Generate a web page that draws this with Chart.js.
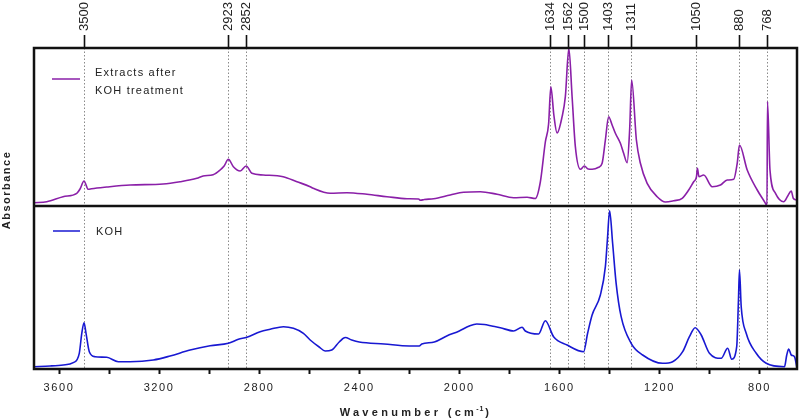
<!DOCTYPE html>
<html><head><meta charset="utf-8">
<script src="https://cdn.jsdelivr.net/npm/chart.js@4.4.1/dist/chart.umd.min.js"></script>
<style>html,body{margin:0;padding:0;background:#fff;}canvas{display:block;}</style>
</head><body>
<canvas id="c" width="800" height="419"></canvas>
<script>
// ---- data (absorbance, arbitrary units) ----
const seriesNames = ['Extracts after KOH treatment', 'KOH'];

const extractWavenumbers = [3700,3649,3584,3529,3516,3500,3483,3470,3409,3316,3184,3116,3049,3024,2984,2956,2940,2923,2903,2876,2852,2829,2784,2704,2649,2596,2584,2516,2449,2369,2289,2209,2163,2155,2140,2103,2036,1983,1916,1849,1783,1729,1696,1676,1656,1643,1634,1622,1609,1589,1576,1562,1549,1536,1516,1500,1485,1469,1443,1429,1416,1403,1389,1376,1356,1343,1329,1319,1311,1292,1276,1249,1209,1176,1143,1109,1083,1063,1052,1048,1042,1023,989,956,929,903,889,880,849,809,776,770,768,758,736,703,687,673,665,652];
const extractAbsorbance  = [0.033,0.043,0.093,0.127,0.17,0.25,0.167,0.173,0.19,0.21,0.22,0.243,0.277,0.30,0.313,0.36,0.40,0.467,0.393,0.35,0.40,0.327,0.31,0.293,0.243,0.193,0.177,0.127,0.133,0.117,0.093,0.073,0.07,0.057,0.065,0.073,0.11,0.137,0.143,0.117,0.083,0.087,0.075,0.24,0.64,0.82,1.193,0.91,0.73,0.893,1.093,1.577,1.093,0.593,0.367,0.40,0.37,0.367,0.387,0.427,0.66,0.893,0.81,0.727,0.627,0.527,0.433,0.76,1.26,0.66,0.427,0.227,0.093,0.04,0.053,0.077,0.16,0.243,0.29,0.377,0.293,0.31,0.193,0.21,0.26,0.267,0.427,0.61,0.36,0.16,0.027,0.0,1.043,0.36,0.127,0.043,0.10,0.15,0.077,0.06];

const kohWavenumbers = [3700,3636,3583,3543,3519,3509,3500,3492,3479,3456,3409,3363,3316,3223,3156,3076,2996,2923,2883,2849,2796,2756,2703,2663,2623,2596,2560,2536,2510,2480,2456,2430,2400,2300,2200,2160,2150,2100,2050,2000,1960,1930,1900,1870,1836,1783,1749,1736,1683,1656,1623,1569,1503,1487,1469,1436,1416,1408,1399,1387,1373,1353,1313,1267,1187,1147,1107,1080,1057,1033,1000,953,927,911,891,884,880,873,853,813,773,700,691,683,673,660,651];
const kohAbsorbance  = [0.023,0.03,0.04,0.063,0.157,0.357,0.463,0.357,0.173,0.123,0.117,0.073,0.073,0.09,0.13,0.19,0.233,0.257,0.297,0.317,0.373,0.397,0.423,0.407,0.357,0.29,0.22,0.18,0.19,0.27,0.315,0.29,0.27,0.25,0.23,0.23,0.25,0.27,0.33,0.38,0.43,0.45,0.445,0.43,0.413,0.38,0.417,0.38,0.35,0.483,0.323,0.24,0.173,0.357,0.54,0.74,1.023,1.29,1.583,1.257,0.857,0.523,0.257,0.14,0.057,0.073,0.173,0.323,0.413,0.34,0.157,0.107,0.207,0.097,0.223,0.69,0.99,0.623,0.357,0.157,0.057,0.023,0.14,0.20,0.14,0.123,0.023];

const peakLabels = [3500, 2923, 2852, 1634, 1562, 1500, 1403, 1311, 1050, 880, 768];
const xTickValues = [3600, 3400, 3200, 3000, 2800, 2600, 2400, 2200, 2000, 1800, 1600, 1400, 1200, 1000, 800];
const xTickLabels = ['3600', '3200', '2800', '2400', '2000', '1600', '1200', '800'];
const xRange = [650, 3700];
const yRangeExtract = [0, 1.58];
const yRangeKoh = [0, 1.63];

const colExtract = '#8a1fa8';
const colKoh = '#1818d2';

Chart.defaults.font.family = "'Liberation Sans', Arial, sans-serif";
Chart.defaults.color = '#222';

const toPoints = (xs, ys) => xs.map((x, i) => ({x: x, y: ys[i]}));

const framePlugin = {
  id: 'frame',
  beforeDraw(chart) { chart.ctx.letterSpacing = '0px'; },
  afterDatasetsDraw(chart) { chart.ctx.letterSpacing = '1.6px'; },
  afterDraw(chart) {
    const {ctx, chartArea: a, scales} = chart;
    ctx.save();
    ctx.letterSpacing = '0px';
    ctx.strokeStyle = '#111';
    ctx.lineWidth = 2.5;
    ctx.strokeRect(a.left, a.top, a.right - a.left, a.bottom - a.top);
    const mid = scales.yExt.bottom;
    ctx.beginPath(); ctx.moveTo(a.left, mid); ctx.lineTo(a.right, mid); ctx.stroke();

    // legends
    ctx.lineWidth = 1.5;
    ctx.strokeStyle = colExtract;
    ctx.beginPath(); ctx.moveTo(a.left + 18, a.top + 31); ctx.lineTo(a.left + 46, a.top + 31); ctx.stroke();
    ctx.strokeStyle = colKoh;
    ctx.beginPath(); ctx.moveTo(a.left + 19, mid + 25); ctx.lineTo(a.left + 46, mid + 25); ctx.stroke();
    ctx.fillStyle = '#222';
    ctx.font = "11px 'Liberation Sans', Arial, sans-serif";
    ctx.letterSpacing = '1.2px';
    ctx.textAlign = 'left';
    ctx.textBaseline = 'middle';
    ctx.fillText('Extracts after', a.left + 61, a.top + 24.5);
    ctx.fillText('KOH treatment', a.left + 61, a.top + 42.5);
    ctx.fillText(seriesNames[1], a.left + 62, mid + 26);

    // y title
    ctx.save();
    ctx.font = "bold 11px 'Liberation Sans', Arial, sans-serif";
    ctx.letterSpacing = '1.5px';
    ctx.translate(7, 190);
    ctx.rotate(-Math.PI / 2);
    ctx.textAlign = 'center';
    ctx.fillText('Absorbance', 0, 0);
    ctx.restore();

    // x title with superscript
    ctx.font = "bold 11px 'Liberation Sans', Arial, sans-serif";
    ctx.letterSpacing = '3.3px';
    const p1 = 'Wavenumber (cm', p3 = ')';
    const w1 = ctx.measureText(p1).width;
    const w3 = ctx.measureText(p3).width;
    ctx.font = "bold 7px 'Liberation Sans', Arial, sans-serif";
    ctx.letterSpacing = '1px';
    const w2 = ctx.measureText('-1').width;
    const total = w1 + w2 + w3;
    let x0 = 416 - total / 2;
    const yb = 416;
    ctx.textBaseline = 'alphabetic';
    ctx.font = "bold 11px 'Liberation Sans', Arial, sans-serif";
    ctx.letterSpacing = '3.3px';
    ctx.fillText(p1, x0, yb);
    ctx.font = "bold 7px 'Liberation Sans', Arial, sans-serif";
    ctx.letterSpacing = '1px';
    ctx.fillText('-1', x0 + w1 - 1, yb - 5);
    ctx.font = "bold 11px 'Liberation Sans', Arial, sans-serif";
    ctx.letterSpacing = '3.3px';
    ctx.fillText(p3, x0 + w1 + w2, yb);
    ctx.restore();
    ctx.letterSpacing = '0px';
  }
};

new Chart(document.getElementById('c'), {
  type: 'line',
  data: {
    datasets: [
      {label: seriesNames[0], data: toPoints(extractWavenumbers, extractAbsorbance), xAxisID: 'x', yAxisID: 'yExt',
       borderColor: colExtract, borderWidth: 1.6, pointRadius: 0, cubicInterpolationMode: 'monotone', fill: false},
      {label: seriesNames[1], data: toPoints(kohWavenumbers, kohAbsorbance), xAxisID: 'x', yAxisID: 'yKoh',
       borderColor: colKoh, borderWidth: 1.6, pointRadius: 0, cubicInterpolationMode: 'monotone', fill: false}
    ]
  },
  options: {
    responsive: false,
    animation: false,
    events: [],
    layout: {padding: {left: 0, right: 3, top: 0, bottom: 0}},
    plugins: {legend: {display: false}, tooltip: {enabled: false}},
    scales: {
      x: {
        type: 'linear', position: 'bottom', reverse: true, min: xRange[0], max: xRange[1],
        afterBuildTicks: s => { s.ticks = xTickValues.map(v => ({value: v})); },
        afterFit: s => { s.height = 50; },
        grid: {display: true, drawOnChartArea: false, drawTicks: true, tickLength: 5, tickColor: '#111', tickWidth: 2},
        border: {display: false},
        ticks: {z: 1, autoSkip: false, maxRotation: 0, padding: 7, font: {size: 11}, color: '#222',
          callback: v => xTickLabels.includes(String(v)) ? String(v) : ''}
      },
      xTop: {
        type: 'linear', position: 'top', reverse: true, min: xRange[0], max: xRange[1],
        afterBuildTicks: s => { s.ticks = peakLabels.map(v => ({value: v})); },
        afterFit: s => { s.height = 48; },
        grid: {display: true, drawOnChartArea: true, drawTicks: true, tickLength: 13, color: '#8a8a8a', lineWidth: 1,
               tickColor: '#111', tickWidth: 1.6, tickBorderDash: []},
        border: {display: false, dash: [1.5, 2]},
        ticks: {z: 0, autoSkip: false, minRotation: 90, maxRotation: 90, padding: 4, labelOffset: 15.5,
          font: {size: 13}, color: '#222', callback: v => String(v)}
      },
      yExt: {
        type: 'linear', position: 'left', stack: 'spec', stackWeight: 158, weight: 2,
        min: yRangeExtract[0], max: yRangeExtract[1],
        afterFit: s => { s.width = 34; },
        ticks: {display: false}, grid: {display: false}, border: {display: false}
      },
      yKoh: {
        type: 'linear', position: 'left', stack: 'spec', stackWeight: 163, weight: 1,
        min: yRangeKoh[0], max: yRangeKoh[1],
        afterFit: s => { s.width = 34; },
        ticks: {display: false}, grid: {display: false}, border: {display: false}
      }
    }
  },
  plugins: [framePlugin]
});
</script>
</body></html>
